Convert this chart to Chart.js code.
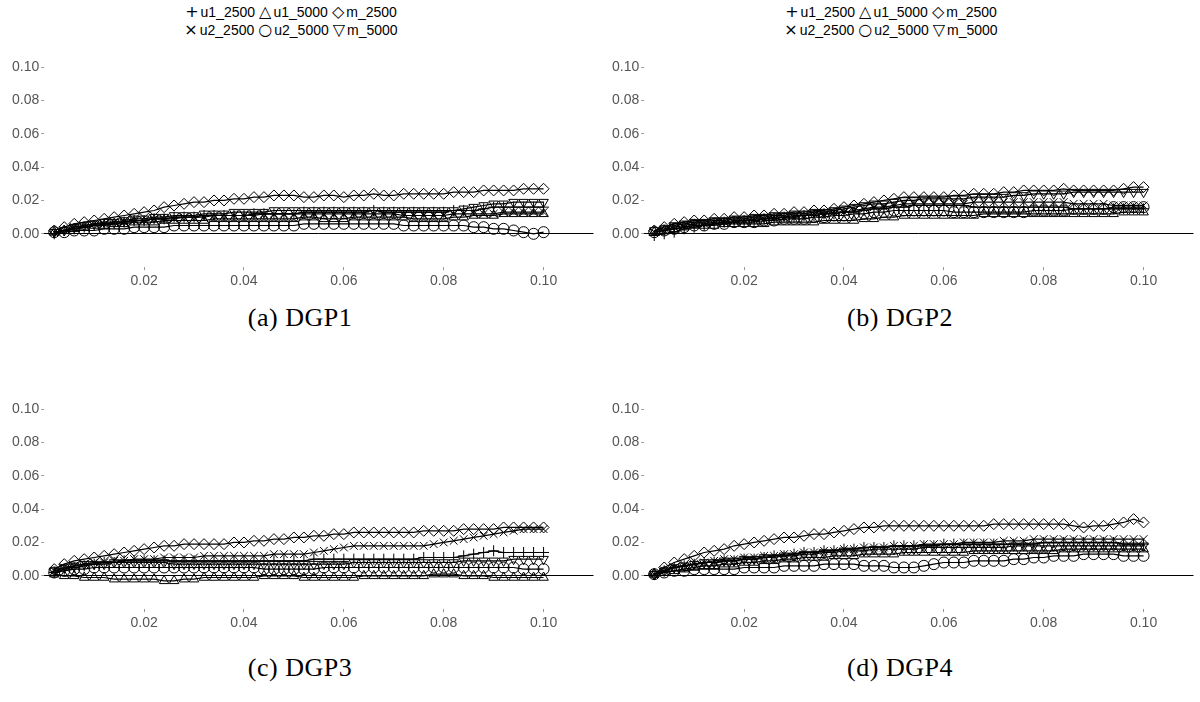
<!DOCTYPE html>
<html>
<head>
<meta charset="utf-8">
<script src="https://cdn.jsdelivr.net/npm/chart.js@4/dist/chart.umd.min.js"></script>
<style>
  body { margin: 0; background: #fff; }
  #wrap { position: relative; width: 1200px; height: 702px; overflow: hidden; }
  canvas { position: absolute; }
  .legend { position: absolute; width: 560px; text-align: center; font: 14px "Liberation Sans", Arial, sans-serif; line-height: 18px; color: #000; }
  .legend .sym { font-family: "DejaVu Sans", sans-serif; font-size: 16px; margin: 0 2px 0 4px; }
  .caption { position: absolute; width: 600px; text-align: center; font: 26px "Liberation Serif", "DejaVu Serif", serif; letter-spacing: 0.5px; line-height: 30px; color: #000; }
</style>
</head>
<body>
<div id="wrap">
  <div class="legend" id="leg1" style="left:9px; top:3px"></div>
  <div class="legend" id="leg2" style="left:609px; top:3px"></div>
  <canvas id="dgp1" width="600" height="250" style="left:0; top:53px"></canvas>
  <canvas id="dgp2" width="600" height="250" style="left:600px; top:53px"></canvas>
  <canvas id="dgp3" width="600" height="250" style="left:0; top:395px"></canvas>
  <canvas id="dgp4" width="600" height="250" style="left:600px; top:395px"></canvas>
  <div class="caption" style="left:0; top:303px">(a) DGP1</div>
  <div class="caption" style="left:600px; top:303px">(b) DGP2</div>
  <div class="caption" style="left:0; top:653px">(c) DGP3</div>
  <div class="caption" style="left:600px; top:653px">(d) DGP4</div>
</div>
<script>
// x grid (nominal level), same for every series
const xs = [0.002,0.004,0.006,0.008,0.010,0.012,0.014,0.016,0.018,0.020,
            0.022,0.024,0.026,0.028,0.030,0.032,0.034,0.036,0.038,0.040,
            0.042,0.044,0.046,0.048,0.050,0.052,0.054,0.056,0.058,0.060,
            0.062,0.064,0.066,0.068,0.070,0.072,0.074,0.076,0.078,0.080,
            0.082,0.084,0.086,0.088,0.090,0.092,0.094,0.096,0.098,0.100];

const seriesNames = ['u1_2500', 'u1_5000', 'm_2500', 'u2_2500', 'u2_5000', 'm_5000'];
const legendGlyphs = ['+', '\u25B3', '\u25C7', '\u00D7', '\u25CB', '\u25BD'];
const xTicks = [0.02, 0.04, 0.06, 0.08, 0.10];
const yTicks = [0.00, 0.02, 0.04, 0.06, 0.08, 0.10];

// DGP1
const a_u1_2500 = [0.000,0.002,0.003,0.004,0.005,0.006,0.006,0.007,0.008,0.008,0.009,0.009,0.010,0.010,0.010,0.011,0.011,0.011,0.011,0.011,0.012,0.012,0.012,0.012,0.012,0.013,0.013,0.013,0.013,0.013,0.013,0.013,0.014,0.013,0.013,0.013,0.013,0.013,0.013,0.013,0.014,0.014,0.014,0.015,0.016,0.016,0.016,0.016,0.016,0.016];
const a_u1_5000 = [0.001,0.002,0.003,0.004,0.005,0.005,0.006,0.006,0.007,0.007,0.007,0.008,0.008,0.008,0.008,0.008,0.009,0.009,0.009,0.009,0.009,0.009,0.009,0.009,0.009,0.010,0.010,0.009,0.009,0.009,0.010,0.010,0.010,0.010,0.010,0.010,0.009,0.009,0.009,0.009,0.010,0.010,0.011,0.011,0.011,0.012,0.012,0.012,0.012,0.012];
const a_m_2500  = [0.002,0.004,0.006,0.007,0.008,0.009,0.010,0.011,0.012,0.013,0.014,0.016,0.017,0.018,0.019,0.019,0.020,0.020,0.021,0.021,0.022,0.022,0.023,0.023,0.023,0.022,0.022,0.023,0.023,0.022,0.023,0.023,0.024,0.023,0.023,0.024,0.024,0.024,0.024,0.024,0.025,0.025,0.025,0.026,0.026,0.026,0.026,0.027,0.027,0.027];
const a_u2_2500 = [0.001,0.002,0.004,0.005,0.006,0.006,0.007,0.007,0.008,0.008,0.009,0.009,0.009,0.010,0.010,0.010,0.011,0.011,0.011,0.011,0.011,0.012,0.012,0.012,0.012,0.012,0.012,0.012,0.012,0.012,0.012,0.012,0.012,0.012,0.012,0.011,0.011,0.011,0.011,0.011,0.012,0.012,0.012,0.012,0.012,0.013,0.013,0.013,0.013,0.013];
const a_u2_5000 = [0.001,0.001,0.002,0.002,0.002,0.003,0.003,0.003,0.004,0.004,0.004,0.004,0.005,0.005,0.005,0.005,0.005,0.005,0.005,0.005,0.005,0.005,0.005,0.005,0.005,0.006,0.006,0.006,0.006,0.006,0.006,0.006,0.006,0.006,0.006,0.005,0.005,0.005,0.005,0.005,0.005,0.005,0.004,0.004,0.003,0.003,0.002,0.001,0.000,0.001];
const a_m_5000  = [0.001,0.002,0.004,0.005,0.006,0.007,0.007,0.008,0.009,0.009,0.010,0.010,0.011,0.011,0.011,0.012,0.012,0.012,0.013,0.013,0.013,0.013,0.014,0.014,0.014,0.014,0.014,0.014,0.014,0.014,0.014,0.014,0.014,0.014,0.014,0.014,0.014,0.014,0.014,0.014,0.014,0.015,0.016,0.017,0.018,0.018,0.019,0.019,0.019,0.019];

// DGP2
const b_u1_2500 = [-0.001,0.000,0.001,0.003,0.004,0.005,0.006,0.007,0.007,0.008,0.008,0.009,0.009,0.010,0.010,0.011,0.011,0.012,0.012,0.013,0.013,0.014,0.015,0.015,0.016,0.016,0.017,0.017,0.017,0.017,0.017,0.017,0.016,0.016,0.016,0.016,0.016,0.016,0.016,0.016,0.016,0.016,0.015,0.015,0.015,0.015,0.015,0.015,0.015,0.015];
const b_u1_5000 = [0.001,0.002,0.003,0.004,0.005,0.005,0.005,0.006,0.006,0.006,0.006,0.006,0.007,0.007,0.007,0.007,0.007,0.008,0.008,0.008,0.008,0.009,0.009,0.010,0.010,0.011,0.011,0.011,0.011,0.011,0.011,0.011,0.011,0.012,0.012,0.012,0.012,0.012,0.012,0.012,0.012,0.012,0.012,0.012,0.012,0.012,0.012,0.013,0.013,0.013];
const b_m_2500  = [0.002,0.004,0.006,0.007,0.008,0.008,0.009,0.009,0.010,0.010,0.011,0.011,0.012,0.012,0.013,0.013,0.014,0.014,0.015,0.016,0.017,0.018,0.019,0.020,0.021,0.022,0.022,0.022,0.022,0.022,0.023,0.023,0.024,0.024,0.024,0.025,0.025,0.026,0.026,0.026,0.026,0.027,0.026,0.026,0.026,0.026,0.026,0.027,0.028,0.028];
const b_u2_2500 = [0.001,0.002,0.004,0.005,0.006,0.006,0.007,0.007,0.008,0.008,0.009,0.009,0.010,0.010,0.011,0.011,0.012,0.012,0.013,0.013,0.014,0.015,0.016,0.016,0.017,0.018,0.018,0.018,0.018,0.018,0.018,0.018,0.019,0.019,0.019,0.019,0.019,0.019,0.019,0.019,0.019,0.019,0.018,0.018,0.018,0.018,0.017,0.017,0.017,0.017];
const b_u2_5000 = [0.001,0.002,0.003,0.004,0.005,0.005,0.006,0.006,0.007,0.007,0.007,0.008,0.008,0.009,0.009,0.009,0.010,0.010,0.011,0.011,0.012,0.012,0.013,0.013,0.014,0.014,0.014,0.014,0.014,0.014,0.013,0.013,0.013,0.013,0.013,0.013,0.013,0.013,0.014,0.014,0.014,0.014,0.015,0.015,0.015,0.015,0.016,0.016,0.016,0.016];
const b_m_5000  = [0.002,0.003,0.005,0.006,0.007,0.007,0.008,0.008,0.009,0.009,0.010,0.010,0.011,0.011,0.012,0.012,0.013,0.013,0.014,0.015,0.016,0.017,0.018,0.018,0.019,0.020,0.020,0.021,0.021,0.021,0.021,0.021,0.022,0.022,0.022,0.022,0.023,0.023,0.024,0.024,0.024,0.024,0.025,0.025,0.025,0.025,0.025,0.025,0.025,0.025];

// DGP3
const c_u1_2500 = [0.002,0.004,0.005,0.006,0.007,0.008,0.008,0.009,0.009,0.009,0.009,0.009,0.009,0.009,0.009,0.009,0.009,0.009,0.009,0.009,0.009,0.009,0.009,0.009,0.009,0.009,0.010,0.010,0.010,0.010,0.010,0.010,0.010,0.010,0.010,0.010,0.010,0.011,0.011,0.011,0.011,0.012,0.013,0.014,0.015,0.014,0.014,0.014,0.014,0.014];
const c_u1_5000 = [0.001,0.000,0.000,-0.001,-0.001,-0.001,-0.002,-0.002,-0.002,-0.002,-0.002,-0.003,-0.003,-0.002,-0.002,-0.001,-0.001,-0.001,-0.001,-0.001,-0.001,0.000,0.000,0.000,0.000,-0.001,-0.001,-0.001,-0.001,-0.001,-0.001,0.000,0.000,0.000,0.000,0.000,0.000,0.000,0.001,0.001,0.001,0.000,0.000,0.000,-0.001,-0.001,-0.001,-0.001,-0.001,-0.001];
const c_m_2500  = [0.004,0.007,0.009,0.010,0.011,0.012,0.013,0.014,0.015,0.016,0.017,0.018,0.018,0.019,0.019,0.019,0.019,0.019,0.020,0.020,0.021,0.021,0.022,0.022,0.023,0.023,0.024,0.024,0.025,0.025,0.026,0.026,0.026,0.026,0.026,0.026,0.026,0.027,0.027,0.027,0.027,0.028,0.028,0.028,0.028,0.029,0.029,0.029,0.029,0.029];
const c_u2_2500 = [0.003,0.005,0.006,0.007,0.008,0.008,0.009,0.009,0.010,0.010,0.010,0.011,0.011,0.011,0.011,0.012,0.012,0.012,0.012,0.012,0.012,0.012,0.013,0.013,0.013,0.013,0.014,0.015,0.016,0.017,0.018,0.018,0.018,0.018,0.018,0.018,0.018,0.018,0.019,0.020,0.021,0.022,0.023,0.024,0.025,0.026,0.027,0.028,0.028,0.028];
const c_u2_5000 = [0.002,0.003,0.004,0.004,0.005,0.005,0.005,0.005,0.005,0.005,0.005,0.005,0.005,0.005,0.005,0.005,0.005,0.005,0.005,0.005,0.005,0.004,0.004,0.004,0.004,0.004,0.004,0.005,0.005,0.005,0.005,0.005,0.005,0.005,0.005,0.005,0.005,0.005,0.005,0.005,0.005,0.005,0.005,0.005,0.005,0.005,0.005,0.004,0.004,0.004];
const c_m_5000  = [0.003,0.005,0.006,0.007,0.007,0.007,0.008,0.008,0.008,0.008,0.008,0.008,0.007,0.007,0.007,0.007,0.007,0.007,0.007,0.007,0.007,0.007,0.007,0.007,0.007,0.007,0.007,0.007,0.007,0.007,0.008,0.008,0.008,0.008,0.008,0.008,0.008,0.008,0.008,0.008,0.008,0.009,0.009,0.009,0.009,0.009,0.010,0.010,0.010,0.010];

// DGP4
const d_u1_2500 = [0.001,0.003,0.005,0.006,0.007,0.008,0.008,0.009,0.009,0.010,0.010,0.011,0.012,0.012,0.013,0.014,0.014,0.015,0.015,0.016,0.016,0.017,0.017,0.017,0.018,0.018,0.018,0.018,0.018,0.019,0.019,0.019,0.019,0.019,0.019,0.019,0.019,0.019,0.019,0.020,0.020,0.020,0.020,0.020,0.020,0.020,0.020,0.019,0.019,0.019];
const d_u1_5000 = [0.001,0.002,0.003,0.004,0.005,0.006,0.006,0.007,0.007,0.008,0.008,0.009,0.009,0.010,0.010,0.011,0.011,0.011,0.012,0.012,0.012,0.013,0.013,0.013,0.013,0.014,0.014,0.014,0.014,0.014,0.014,0.014,0.015,0.015,0.015,0.015,0.015,0.015,0.015,0.015,0.015,0.016,0.016,0.016,0.016,0.016,0.016,0.016,0.016,0.016];
const d_m_2500  = [0.001,0.005,0.008,0.010,0.012,0.014,0.015,0.016,0.018,0.019,0.020,0.021,0.022,0.023,0.023,0.024,0.025,0.025,0.026,0.027,0.028,0.029,0.029,0.030,0.030,0.030,0.030,0.030,0.030,0.030,0.030,0.030,0.030,0.030,0.031,0.031,0.031,0.031,0.031,0.031,0.031,0.031,0.030,0.029,0.030,0.030,0.031,0.032,0.034,0.032];
const d_u2_2500 = [0.001,0.003,0.005,0.006,0.007,0.008,0.009,0.010,0.010,0.011,0.011,0.012,0.012,0.013,0.013,0.014,0.014,0.015,0.015,0.016,0.016,0.017,0.017,0.017,0.018,0.018,0.018,0.019,0.019,0.019,0.019,0.020,0.020,0.020,0.020,0.021,0.021,0.021,0.022,0.022,0.022,0.022,0.022,0.022,0.022,0.022,0.022,0.022,0.022,0.022];
const d_u2_5000 = [0.001,0.002,0.003,0.003,0.004,0.004,0.004,0.004,0.004,0.005,0.005,0.005,0.005,0.006,0.006,0.006,0.006,0.007,0.007,0.007,0.007,0.006,0.006,0.006,0.005,0.005,0.005,0.006,0.007,0.008,0.008,0.008,0.009,0.009,0.009,0.009,0.010,0.010,0.011,0.011,0.012,0.012,0.012,0.013,0.013,0.013,0.013,0.012,0.012,0.012];
const d_m_5000  = [0.001,0.003,0.005,0.006,0.007,0.008,0.008,0.009,0.009,0.010,0.010,0.011,0.011,0.012,0.012,0.013,0.013,0.014,0.014,0.015,0.015,0.015,0.016,0.016,0.016,0.016,0.016,0.017,0.017,0.017,0.017,0.017,0.017,0.017,0.017,0.017,0.018,0.018,0.018,0.018,0.018,0.018,0.018,0.018,0.018,0.018,0.018,0.018,0.018,0.018];

// marker per series, in seriesNames order
const markers = [
  { style: 'cross', rot: 0 },
  { style: 'triangle', rot: 0 },
  { style: 'rectRot', rot: 0 },
  { style: 'crossRot', rot: 0 },
  { style: 'circle', rot: 0 },
  { style: 'triangle', rot: 180 }   // upside-down triangle
];

const panels = [
  { id: 'dgp1', series: [a_u1_2500, a_u1_5000, a_m_2500, a_u2_2500, a_u2_5000, a_m_5000] },
  { id: 'dgp2', series: [b_u1_2500, b_u1_5000, b_m_2500, b_u2_2500, b_u2_5000, b_m_5000] },
  { id: 'dgp3', series: [c_u1_2500, c_u1_5000, c_m_2500, c_u2_2500, c_u2_5000, c_m_5000] },
  { id: 'dgp4', series: [d_u1_2500, d_u1_5000, d_m_2500, d_u2_2500, d_u2_5000, d_m_5000] }
];

// legends above the top two panels, 3 entries per row
['leg1', 'leg2'].forEach(id => {
  const el = document.getElementById(id);
  let html = '';
  seriesNames.forEach((name, i) => {
    html += '<span class="sym">' + legendGlyphs[i] + '</span>' + name;
    if (i === 2) html += '<br>';
  });
  el.innerHTML = html;
});

const tickFont = { family: '"Liberation Sans", Arial, sans-serif', size: 14 };

panels.forEach(p => new Chart(document.getElementById(p.id), {
  type: 'line',
  data: {
    datasets: p.series.map((vals, i) => ({
      label: seriesNames[i],
      data: xs.map((x, k) => ({ x: x, y: vals[k] })),
      borderColor: '#000',
      borderWidth: 1.2,
      backgroundColor: 'rgba(0,0,0,0)',
      pointStyle: markers[i].style,
      pointRotation: markers[i].rot,
      pointRadius: 5.5,
      pointBorderWidth: 1,
      pointBorderColor: '#000',
      pointBackgroundColor: 'rgba(0,0,0,0)',
      tension: 0
    }))
  },
  options: {
    responsive: false,
    animation: false,
    devicePixelRatio: 1,
    layout: { padding: { left: 10, right: 6, top: 14, bottom: 10 } },
    plugins: { legend: { display: false }, tooltip: { enabled: false } },
    scales: {
      x: {
        type: 'linear',
        min: 0,
        max: 0.11,
        afterBuildTicks: axis => { axis.ticks = xTicks.map(v => ({ value: v })); },
        ticks: { color: '#555', font: tickFont, padding: 3, maxRotation: 0,
                 callback: v => v.toFixed(2) },
        grid: { drawOnChartArea: false, tickLength: 3, tickColor: '#999' },
        border: { display: false }
      },
      y: {
        min: -0.02,
        max: 0.10,
        afterBuildTicks: axis => { axis.ticks = yTicks.map(v => ({ value: v })); },
        ticks: { color: '#555', font: tickFont, padding: 2,
                 callback: v => v.toFixed(2) },
        grid: {
          // only the zero line is drawn across the plot
          color: c => (c.tick && c.tick.value === 0 ? '#000' : 'rgba(0,0,0,0)'),
          tickColor: '#999',
          tickLength: 3,
          lineWidth: 1
        },
        border: { display: false }
      }
    }
  }
}));
</script>
</body>
</html>
